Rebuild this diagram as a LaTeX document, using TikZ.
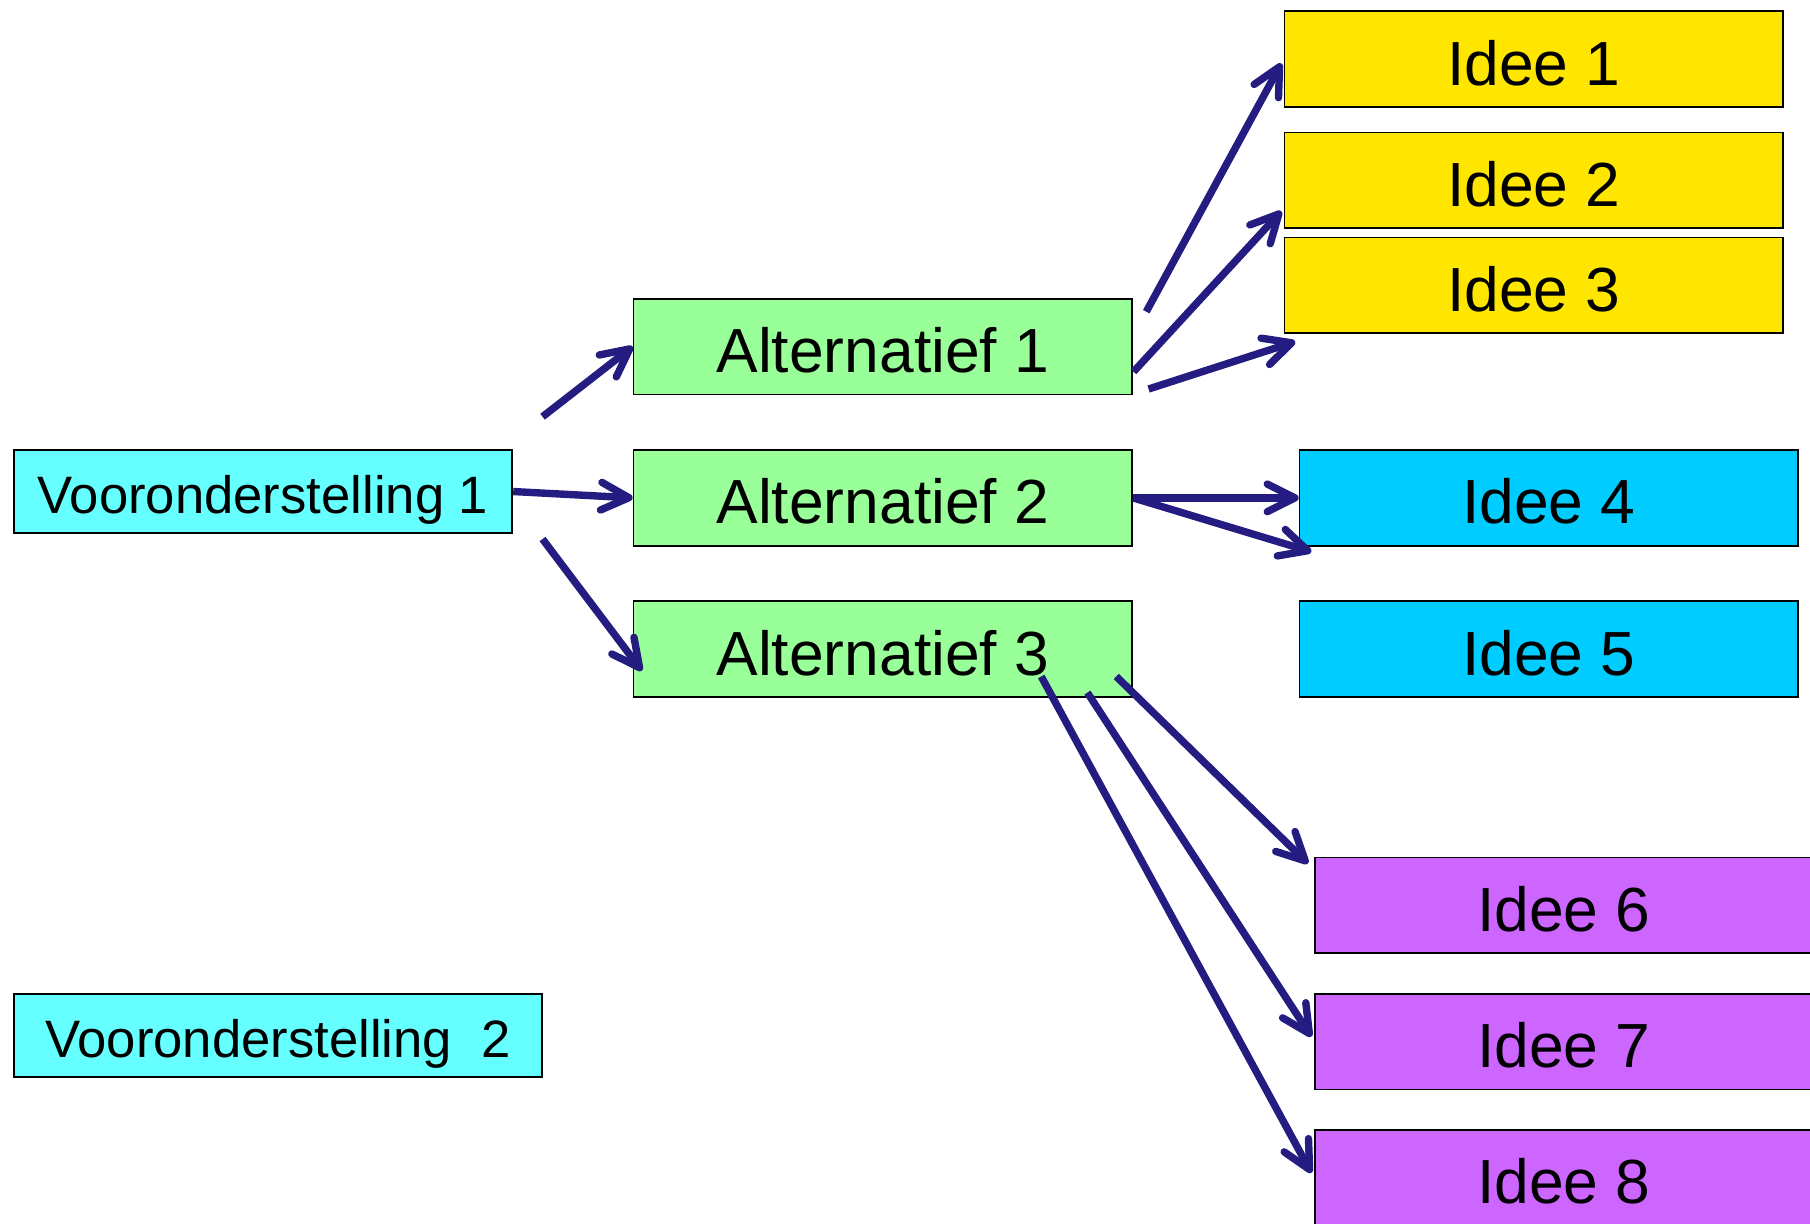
\documentclass[tikz,border=0pt]{standalone}
\usepackage{fontspec}
\setmainfont{Liberation Sans}
\usetikzlibrary{arrows.meta}

\definecolor{premise}{HTML}{66FFFF}
\definecolor{altgreen}{HTML}{99FF99}
\definecolor{ideayellow}{HTML}{FFE600}
\definecolor{ideablue}{HTML}{00CCFF}
\definecolor{ideapurple}{HTML}{CC66FF}
\definecolor{linknavy}{RGB}{36,28,128}

\begin{document}
\begin{tikzpicture}[x=0.5pt,y=-0.5pt,
  box/.style={draw=black, line width=0.8pt, inner sep=0pt, anchor=north west,
    minimum width=216pt, minimum height=41.5pt,
    text height=25.6pt, text depth=3pt,
    font=\fontsize{27}{32}\selectfont},
  premisebox/.style={box, fill=premise, minimum height=36pt,
    text height=21.8pt, text depth=2.4pt,
    font=\fontsize{22.8}{27}\selectfont},
  altbox/.style={box, fill=altgreen},
  yellowbox/.style={box, fill=ideayellow},
  bluebox/.style={box, fill=ideablue},
  purplebox/.style={box, fill=ideapurple},
  link/.style={draw=linknavy, line width=3.2pt,
    -{Straight Barb[round, length=12pt, width=12pt]}}]

% page
\fill[white] (0,0) rectangle (1568,1060);
\useasboundingbox (0,0) rectangle (1568,1060);

% premises
\node[premisebox, minimum width=216pt] (v1) at (11,389) {Vooronderstelling 1};
\node[premisebox, minimum width=229pt] (v2) at (11,860) {Vooronderstelling\ \ 2};

% alternatives
\node[altbox] (a1) at (548,258) {Alternatief 1};
\node[altbox] (a2) at (548,389) {Alternatief 2};
\node[altbox] (a3) at (548,520) {Alternatief 3};

% ideas
\node[yellowbox] (i1) at (1112,9)   {Idee 1};
\node[yellowbox] (i2) at (1112,114) {Idee 2};
\node[yellowbox] (i3) at (1112,205) {Idee 3};
\node[bluebox]   (i4) at (1125,389) {Idee 4};
\node[bluebox]   (i5) at (1125,520) {Idee 5};
\node[purplebox] (i6) at (1138,742) {Idee 6};
\node[purplebox] (i7) at (1138,860) {Idee 7};
\node[purplebox] (i8) at (1138,978) {Idee 8};

% loose arrow ends
\coordinate (s1) at (470,361);
\coordinate (s3) at (470,467);
\coordinate (t3) at (556,581);
\coordinate (s4) at (993,270);
\coordinate (t4) at (1110,55);
\coordinate (s5) at (982,322);
\coordinate (t5) at (1110,183);
\coordinate (s6) at (995,337);
\coordinate (t6) at (1122,296);
\coordinate (t8) at (1136,478);
\coordinate (s9) at (967,586);
\coordinate (t9) at (1133,748);
\coordinate (s10) at (942,600);
\coordinate (t10) at (1136,898);
\coordinate (s11) at (902,586);
\coordinate (t11) at (1136,1016);

% links from the first premise
\draw[link] (s1) -- (a1.west);
\draw[link] (v1.east) -- (a2.west);
\draw[link] (s3) -- (t3);

% links from the alternatives
\draw[link] (s4) -- (t4);
\draw[link] (s5) -- (t5);
\draw[link] (s6) -- (t6);
\draw[link] (a2.east) -- (i4.west);
\draw[link] (a2.east) -- (t8);
\draw[link] (s9) -- (t9);
\draw[link] (s10) -- (t10);
\draw[link] (s11) -- (t11);
\end{tikzpicture}
\end{document}
